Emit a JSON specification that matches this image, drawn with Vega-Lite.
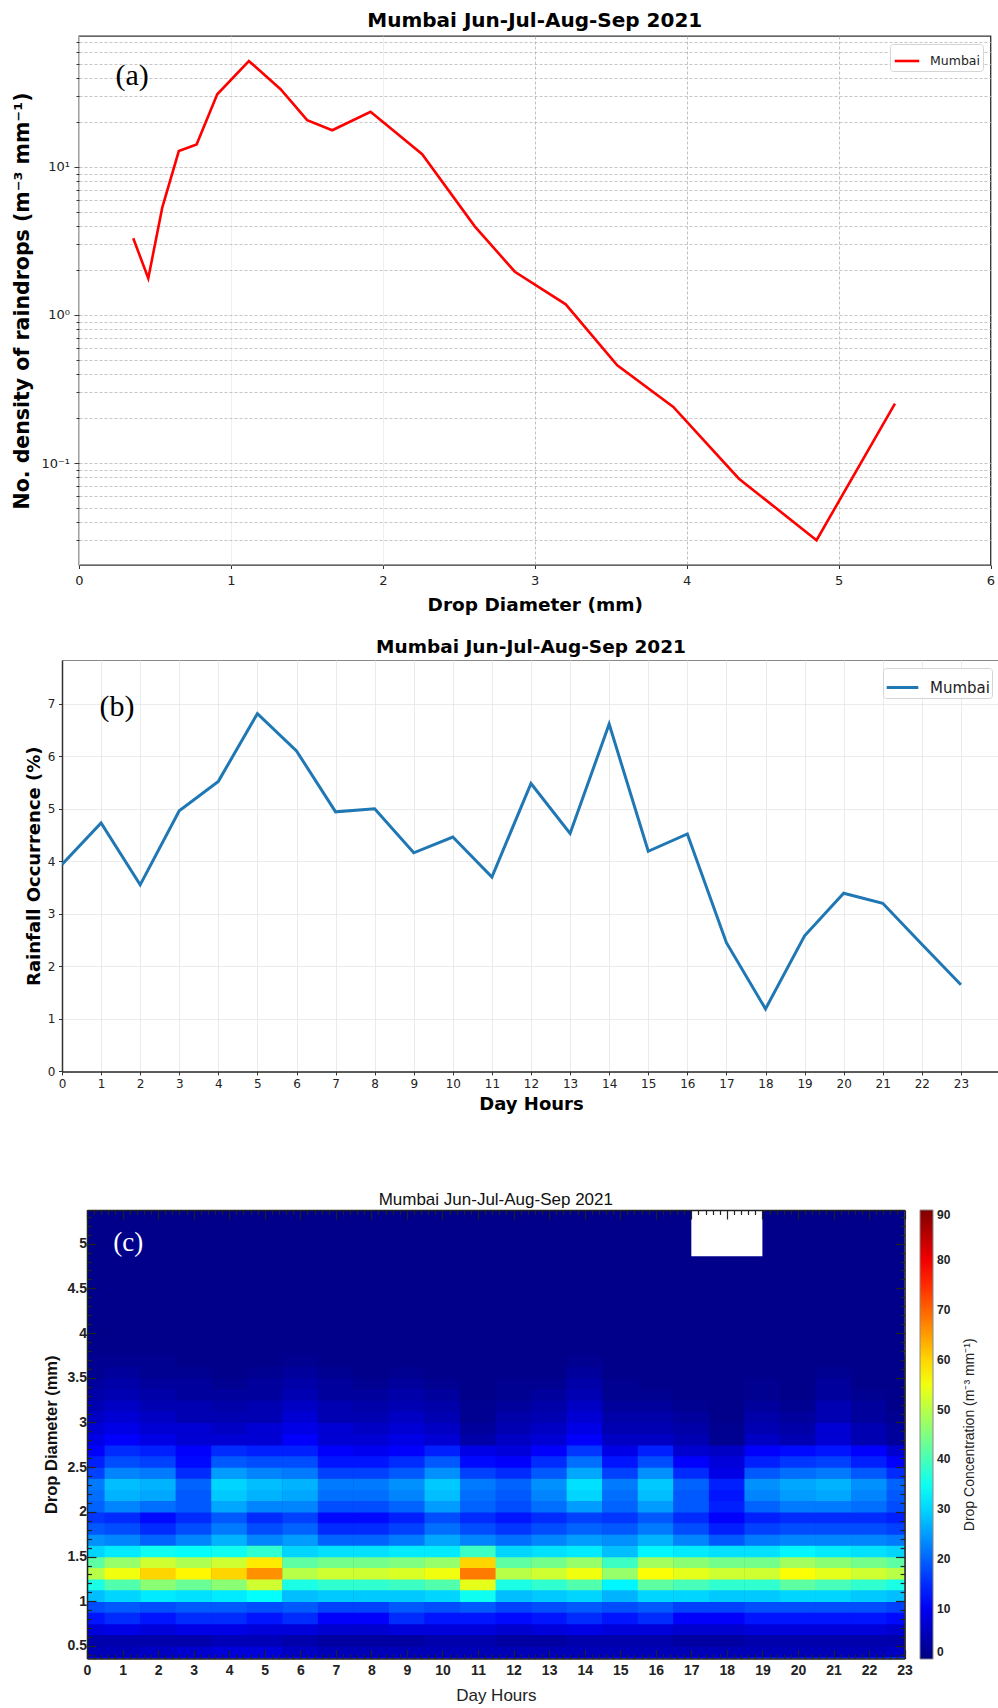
{
"$schema":"https://vega.github.io/schema/vega-lite/v6.json",
"padding":{"left":0,"top":10,"right":0,"bottom":0},
"autosize":{"type":"pad"},
"background":"white",
"spacing":22,
"config":{"font":"DejaVu Sans","view":{"stroke":null},"axis":{"labelColor":"#222","titleColor":"#000"}},
"resolve":{"scale":{"color":"independent"},"legend":{"color":"independent"}},
"datasets":{"blank":[{}],"heat":[
{"h":0,"d":0.31,"v":10},{"h":1,"d":0.31,"v":10},{"h":2,"d":0.31,"v":10},{"h":3,"d":0.31,"v":10},{"h":4,"d":0.31,"v":10},{"h":5,"d":0.31,"v":12},{"h":6,"d":0.31,"v":12},{"h":7,"d":0.31,"v":10},{"h":8,"d":0.31,"v":10},{"h":9,"d":0.31,"v":10},{"h":10,"d":0.31,"v":10},{"h":11,"d":0.31,"v":10},{"h":12,"d":0.31,"v":10},{"h":13,"d":0.31,"v":10},{"h":14,"d":0.31,"v":10},{"h":15,"d":0.31,"v":12},{"h":16,"d":0.31,"v":12},{"h":17,"d":0.31,"v":12},{"h":18,"d":0.31,"v":12},{"h":19,"d":0.31,"v":14},{"h":20,"d":0.31,"v":14},{"h":21,"d":0.31,"v":14},{"h":22,"d":0.31,"v":14},{"h":23,"d":0.31,"v":16},
{"h":0,"d":0.44,"v":5},{"h":1,"d":0.44,"v":5},{"h":2,"d":0.44,"v":6},{"h":3,"d":0.44,"v":7},{"h":4,"d":0.44,"v":8},{"h":5,"d":0.44,"v":8},{"h":6,"d":0.44,"v":6},{"h":7,"d":0.44,"v":5},{"h":8,"d":0.44,"v":5},{"h":9,"d":0.44,"v":5},{"h":10,"d":0.44,"v":5},{"h":11,"d":0.44,"v":5},{"h":12,"d":0.44,"v":5},{"h":13,"d":0.44,"v":5},{"h":14,"d":0.44,"v":5},{"h":15,"d":0.44,"v":5},{"h":16,"d":0.44,"v":5},{"h":17,"d":0.44,"v":5},{"h":18,"d":0.44,"v":5},{"h":19,"d":0.44,"v":5},{"h":20,"d":0.44,"v":5},{"h":21,"d":0.44,"v":5},{"h":22,"d":0.44,"v":5},{"h":23,"d":0.44,"v":6},
{"h":0,"d":0.56,"v":4},{"h":1,"d":0.56,"v":4},{"h":2,"d":0.56,"v":4},{"h":3,"d":0.56,"v":4},{"h":4,"d":0.56,"v":5},{"h":5,"d":0.56,"v":5},{"h":6,"d":0.56,"v":4},{"h":7,"d":0.56,"v":3},{"h":8,"d":0.56,"v":3},{"h":9,"d":0.56,"v":3},{"h":10,"d":0.56,"v":4},{"h":11,"d":0.56,"v":4},{"h":12,"d":0.56,"v":3},{"h":13,"d":0.56,"v":3},{"h":14,"d":0.56,"v":4},{"h":15,"d":0.56,"v":4},{"h":16,"d":0.56,"v":4},{"h":17,"d":0.56,"v":3},{"h":18,"d":0.56,"v":3},{"h":19,"d":0.56,"v":4},{"h":20,"d":0.56,"v":4},{"h":21,"d":0.56,"v":4},{"h":22,"d":0.56,"v":4},{"h":23,"d":0.56,"v":4},
{"h":0,"d":0.69,"v":8},{"h":1,"d":0.69,"v":9},{"h":2,"d":0.69,"v":8},{"h":3,"d":0.69,"v":9},{"h":4,"d":0.69,"v":9},{"h":5,"d":0.69,"v":8},{"h":6,"d":0.69,"v":8},{"h":7,"d":0.69,"v":7},{"h":8,"d":0.69,"v":7},{"h":9,"d":0.69,"v":8},{"h":10,"d":0.69,"v":8},{"h":11,"d":0.69,"v":8},{"h":12,"d":0.69,"v":7},{"h":13,"d":0.69,"v":8},{"h":14,"d":0.69,"v":9},{"h":15,"d":0.69,"v":8},{"h":16,"d":0.69,"v":8},{"h":17,"d":0.69,"v":7},{"h":18,"d":0.69,"v":7},{"h":19,"d":0.69,"v":8},{"h":20,"d":0.69,"v":8},{"h":21,"d":0.69,"v":8},{"h":22,"d":0.69,"v":8},{"h":23,"d":0.69,"v":7},
{"h":0,"d":0.81,"v":13},{"h":1,"d":0.81,"v":15},{"h":2,"d":0.81,"v":13},{"h":3,"d":0.81,"v":15},{"h":4,"d":0.81,"v":15},{"h":5,"d":0.81,"v":13},{"h":6,"d":0.81,"v":15},{"h":7,"d":0.81,"v":11},{"h":8,"d":0.81,"v":11},{"h":9,"d":0.81,"v":15},{"h":10,"d":0.81,"v":13},{"h":11,"d":0.81,"v":13},{"h":12,"d":0.81,"v":12},{"h":13,"d":0.81,"v":13},{"h":14,"d":0.81,"v":15},{"h":15,"d":0.81,"v":13},{"h":16,"d":0.81,"v":15},{"h":17,"d":0.81,"v":11},{"h":18,"d":0.81,"v":11},{"h":19,"d":0.81,"v":13},{"h":20,"d":0.81,"v":13},{"h":21,"d":0.81,"v":13},{"h":22,"d":0.81,"v":13},{"h":23,"d":0.81,"v":12},
{"h":0,"d":0.94,"v":18},{"h":1,"d":0.94,"v":19},{"h":2,"d":0.94,"v":18},{"h":3,"d":0.94,"v":19},{"h":4,"d":0.94,"v":19},{"h":5,"d":0.94,"v":18},{"h":6,"d":0.94,"v":19},{"h":7,"d":0.94,"v":17},{"h":8,"d":0.94,"v":17},{"h":9,"d":0.94,"v":19},{"h":10,"d":0.94,"v":18},{"h":11,"d":0.94,"v":19},{"h":12,"d":0.94,"v":17},{"h":13,"d":0.94,"v":18},{"h":14,"d":0.94,"v":19},{"h":15,"d":0.94,"v":18},{"h":16,"d":0.94,"v":19},{"h":17,"d":0.94,"v":17},{"h":18,"d":0.94,"v":17},{"h":19,"d":0.94,"v":18},{"h":20,"d":0.94,"v":18},{"h":21,"d":0.94,"v":18},{"h":22,"d":0.94,"v":18},{"h":23,"d":0.94,"v":17},
{"h":0,"d":1.06,"v":28},{"h":1,"d":1.06,"v":30},{"h":2,"d":1.06,"v":32},{"h":3,"d":1.06,"v":31},{"h":4,"d":1.06,"v":32},{"h":5,"d":1.06,"v":34},{"h":6,"d":1.06,"v":28},{"h":7,"d":1.06,"v":29},{"h":8,"d":1.06,"v":29},{"h":9,"d":1.06,"v":29},{"h":10,"d":1.06,"v":30},{"h":11,"d":1.06,"v":35},{"h":12,"d":1.06,"v":28},{"h":13,"d":1.06,"v":29},{"h":14,"d":1.06,"v":30},{"h":15,"d":1.06,"v":27},{"h":16,"d":1.06,"v":30},{"h":17,"d":1.06,"v":30},{"h":18,"d":1.06,"v":29},{"h":19,"d":1.06,"v":29},{"h":20,"d":1.06,"v":30},{"h":21,"d":1.06,"v":30},{"h":22,"d":1.06,"v":29},{"h":23,"d":1.06,"v":28},
{"h":0,"d":1.19,"v":36},{"h":1,"d":1.19,"v":41},{"h":2,"d":1.19,"v":46},{"h":3,"d":1.19,"v":43},{"h":4,"d":1.19,"v":46},{"h":5,"d":1.19,"v":52},{"h":6,"d":1.19,"v":36},{"h":7,"d":1.19,"v":38},{"h":8,"d":1.19,"v":38},{"h":9,"d":1.19,"v":39},{"h":10,"d":1.19,"v":41},{"h":11,"d":1.19,"v":54},{"h":12,"d":1.19,"v":36},{"h":13,"d":1.19,"v":38},{"h":14,"d":1.19,"v":41},{"h":15,"d":1.19,"v":33},{"h":16,"d":1.19,"v":42},{"h":17,"d":1.19,"v":40},{"h":18,"d":1.19,"v":38},{"h":19,"d":1.19,"v":38},{"h":20,"d":1.19,"v":42},{"h":21,"d":1.19,"v":40},{"h":22,"d":1.19,"v":38},{"h":23,"d":1.19,"v":36},
{"h":0,"d":1.31,"v":50},{"h":1,"d":1.31,"v":55},{"h":2,"d":1.31,"v":60},{"h":3,"d":1.31,"v":57},{"h":4,"d":1.31,"v":60},{"h":5,"d":1.31,"v":66},{"h":6,"d":1.31,"v":50},{"h":7,"d":1.31,"v":52},{"h":8,"d":1.31,"v":52},{"h":9,"d":1.31,"v":53},{"h":10,"d":1.31,"v":55},{"h":11,"d":1.31,"v":68},{"h":12,"d":1.31,"v":50},{"h":13,"d":1.31,"v":52},{"h":14,"d":1.31,"v":55},{"h":15,"d":1.31,"v":47},{"h":16,"d":1.31,"v":56},{"h":17,"d":1.31,"v":54},{"h":18,"d":1.31,"v":52},{"h":19,"d":1.31,"v":52},{"h":20,"d":1.31,"v":56},{"h":21,"d":1.31,"v":54},{"h":22,"d":1.31,"v":52},{"h":23,"d":1.31,"v":50},
{"h":0,"d":1.44,"v":42},{"h":1,"d":1.44,"v":47},{"h":2,"d":1.44,"v":52},{"h":3,"d":1.44,"v":49},{"h":4,"d":1.44,"v":52},{"h":5,"d":1.44,"v":58},{"h":6,"d":1.44,"v":42},{"h":7,"d":1.44,"v":44},{"h":8,"d":1.44,"v":44},{"h":9,"d":1.44,"v":45},{"h":10,"d":1.44,"v":47},{"h":11,"d":1.44,"v":60},{"h":12,"d":1.44,"v":42},{"h":13,"d":1.44,"v":44},{"h":14,"d":1.44,"v":47},{"h":15,"d":1.44,"v":39},{"h":16,"d":1.44,"v":48},{"h":17,"d":1.44,"v":46},{"h":18,"d":1.44,"v":44},{"h":19,"d":1.44,"v":44},{"h":20,"d":1.44,"v":48},{"h":21,"d":1.44,"v":46},{"h":22,"d":1.44,"v":44},{"h":23,"d":1.44,"v":42},
{"h":0,"d":1.56,"v":30},{"h":1,"d":1.56,"v":32},{"h":2,"d":1.56,"v":35},{"h":3,"d":1.56,"v":34},{"h":4,"d":1.56,"v":35},{"h":5,"d":1.56,"v":38},{"h":6,"d":1.56,"v":30},{"h":7,"d":1.56,"v":31},{"h":8,"d":1.56,"v":31},{"h":9,"d":1.56,"v":32},{"h":10,"d":1.56,"v":32},{"h":11,"d":1.56,"v":39},{"h":12,"d":1.56,"v":30},{"h":13,"d":1.56,"v":31},{"h":14,"d":1.56,"v":32},{"h":15,"d":1.56,"v":28},{"h":16,"d":1.56,"v":33},{"h":17,"d":1.56,"v":32},{"h":18,"d":1.56,"v":31},{"h":19,"d":1.56,"v":31},{"h":20,"d":1.56,"v":33},{"h":21,"d":1.56,"v":32},{"h":22,"d":1.56,"v":31},{"h":23,"d":1.56,"v":30},
{"h":0,"d":1.69,"v":24},{"h":1,"d":1.69,"v":23},{"h":2,"d":1.69,"v":20},{"h":3,"d":1.69,"v":23},{"h":4,"d":1.69,"v":27},{"h":5,"d":1.69,"v":23},{"h":6,"d":1.69,"v":25},{"h":7,"d":1.69,"v":20},{"h":8,"d":1.69,"v":20},{"h":9,"d":1.69,"v":22},{"h":10,"d":1.69,"v":26},{"h":11,"d":1.69,"v":23},{"h":12,"d":1.69,"v":21},{"h":13,"d":1.69,"v":23},{"h":14,"d":1.69,"v":25},{"h":15,"d":1.69,"v":24},{"h":16,"d":1.69,"v":27},{"h":17,"d":1.69,"v":23},{"h":18,"d":1.69,"v":19},{"h":19,"d":1.69,"v":22},{"h":20,"d":1.69,"v":23},{"h":21,"d":1.69,"v":23},{"h":22,"d":1.69,"v":23},{"h":23,"d":1.69,"v":22},
{"h":0,"d":1.81,"v":19},{"h":1,"d":1.81,"v":18},{"h":2,"d":1.81,"v":15},{"h":3,"d":1.81,"v":18},{"h":4,"d":1.81,"v":22},{"h":5,"d":1.81,"v":18},{"h":6,"d":1.81,"v":20},{"h":7,"d":1.81,"v":15},{"h":8,"d":1.81,"v":15},{"h":9,"d":1.81,"v":17},{"h":10,"d":1.81,"v":21},{"h":11,"d":1.81,"v":18},{"h":12,"d":1.81,"v":16},{"h":13,"d":1.81,"v":18},{"h":14,"d":1.81,"v":20},{"h":15,"d":1.81,"v":19},{"h":16,"d":1.81,"v":22},{"h":17,"d":1.81,"v":18},{"h":18,"d":1.81,"v":14},{"h":19,"d":1.81,"v":17},{"h":20,"d":1.81,"v":18},{"h":21,"d":1.81,"v":18},{"h":22,"d":1.81,"v":18},{"h":23,"d":1.81,"v":17},
{"h":0,"d":1.94,"v":16},{"h":1,"d":1.94,"v":15},{"h":2,"d":1.94,"v":12},{"h":3,"d":1.94,"v":15},{"h":4,"d":1.94,"v":19},{"h":5,"d":1.94,"v":15},{"h":6,"d":1.94,"v":17},{"h":7,"d":1.94,"v":12},{"h":8,"d":1.94,"v":12},{"h":9,"d":1.94,"v":14},{"h":10,"d":1.94,"v":18},{"h":11,"d":1.94,"v":15},{"h":12,"d":1.94,"v":13},{"h":13,"d":1.94,"v":15},{"h":14,"d":1.94,"v":17},{"h":15,"d":1.94,"v":16},{"h":16,"d":1.94,"v":19},{"h":17,"d":1.94,"v":15},{"h":18,"d":1.94,"v":11},{"h":19,"d":1.94,"v":14},{"h":20,"d":1.94,"v":15},{"h":21,"d":1.94,"v":15},{"h":22,"d":1.94,"v":15},{"h":23,"d":1.94,"v":14},
{"h":0,"d":2.06,"v":20},{"h":1,"d":2.06,"v":23},{"h":2,"d":2.06,"v":21},{"h":3,"d":2.06,"v":19},{"h":4,"d":2.06,"v":26},{"h":5,"d":2.06,"v":23},{"h":6,"d":2.06,"v":23},{"h":7,"d":2.06,"v":18},{"h":8,"d":2.06,"v":18},{"h":9,"d":2.06,"v":20},{"h":10,"d":2.06,"v":25},{"h":11,"d":2.06,"v":20},{"h":12,"d":2.06,"v":18},{"h":13,"d":2.06,"v":21},{"h":14,"d":2.06,"v":25},{"h":15,"d":2.06,"v":20},{"h":16,"d":2.06,"v":25},{"h":17,"d":2.06,"v":19},{"h":18,"d":2.06,"v":14},{"h":19,"d":2.06,"v":20},{"h":20,"d":2.06,"v":22},{"h":21,"d":2.06,"v":22},{"h":22,"d":2.06,"v":21},{"h":23,"d":2.06,"v":18},
{"h":0,"d":2.19,"v":21},{"h":1,"d":2.19,"v":27},{"h":2,"d":2.19,"v":26},{"h":3,"d":2.19,"v":19},{"h":4,"d":2.19,"v":29},{"h":5,"d":2.19,"v":27},{"h":6,"d":2.19,"v":26},{"h":7,"d":2.19,"v":21},{"h":8,"d":2.19,"v":21},{"h":9,"d":2.19,"v":23},{"h":10,"d":2.19,"v":28},{"h":11,"d":2.19,"v":21},{"h":12,"d":2.19,"v":19},{"h":13,"d":2.19,"v":23},{"h":14,"d":2.19,"v":30},{"h":15,"d":2.19,"v":21},{"h":16,"d":2.19,"v":28},{"h":17,"d":2.19,"v":19},{"h":18,"d":2.19,"v":13},{"h":19,"d":2.19,"v":23},{"h":20,"d":2.19,"v":25},{"h":21,"d":2.19,"v":26},{"h":22,"d":2.19,"v":23},{"h":23,"d":2.19,"v":19},
{"h":0,"d":2.31,"v":22},{"h":1,"d":2.31,"v":28},{"h":2,"d":2.31,"v":27},{"h":3,"d":2.31,"v":20},{"h":4,"d":2.31,"v":30},{"h":5,"d":2.31,"v":28},{"h":6,"d":2.31,"v":27},{"h":7,"d":2.31,"v":22},{"h":8,"d":2.31,"v":22},{"h":9,"d":2.31,"v":24},{"h":10,"d":2.31,"v":29},{"h":11,"d":2.31,"v":22},{"h":12,"d":2.31,"v":20},{"h":13,"d":2.31,"v":24},{"h":14,"d":2.31,"v":31},{"h":15,"d":2.31,"v":22},{"h":16,"d":2.31,"v":29},{"h":17,"d":2.31,"v":20},{"h":18,"d":2.31,"v":14},{"h":19,"d":2.31,"v":24},{"h":20,"d":2.31,"v":26},{"h":21,"d":2.31,"v":27},{"h":22,"d":2.31,"v":24},{"h":23,"d":2.31,"v":20},
{"h":0,"d":2.44,"v":17},{"h":1,"d":2.44,"v":23},{"h":2,"d":2.44,"v":22},{"h":3,"d":2.44,"v":15},{"h":4,"d":2.44,"v":25},{"h":5,"d":2.44,"v":23},{"h":6,"d":2.44,"v":22},{"h":7,"d":2.44,"v":17},{"h":8,"d":2.44,"v":17},{"h":9,"d":2.44,"v":19},{"h":10,"d":2.44,"v":24},{"h":11,"d":2.44,"v":17},{"h":12,"d":2.44,"v":15},{"h":13,"d":2.44,"v":19},{"h":14,"d":2.44,"v":26},{"h":15,"d":2.44,"v":17},{"h":16,"d":2.44,"v":24},{"h":17,"d":2.44,"v":15},{"h":18,"d":2.44,"v":9},{"h":19,"d":2.44,"v":19},{"h":20,"d":2.44,"v":21},{"h":21,"d":2.44,"v":22},{"h":22,"d":2.44,"v":19},{"h":23,"d":2.44,"v":15},
{"h":0,"d":2.56,"v":14},{"h":1,"d":2.56,"v":18},{"h":2,"d":2.56,"v":17},{"h":3,"d":2.56,"v":12},{"h":4,"d":2.56,"v":19},{"h":5,"d":2.56,"v":18},{"h":6,"d":2.56,"v":18},{"h":7,"d":2.56,"v":13},{"h":8,"d":2.56,"v":13},{"h":9,"d":2.56,"v":15},{"h":10,"d":2.56,"v":19},{"h":11,"d":2.56,"v":12},{"h":12,"d":2.56,"v":11},{"h":13,"d":2.56,"v":15},{"h":14,"d":2.56,"v":21},{"h":15,"d":2.56,"v":13},{"h":16,"d":2.56,"v":18},{"h":17,"d":2.56,"v":11},{"h":18,"d":2.56,"v":8},{"h":19,"d":2.56,"v":14},{"h":20,"d":2.56,"v":16},{"h":21,"d":2.56,"v":17},{"h":22,"d":2.56,"v":14},{"h":23,"d":2.56,"v":11},
{"h":0,"d":2.69,"v":11},{"h":1,"d":2.69,"v":15},{"h":2,"d":2.69,"v":14},{"h":3,"d":2.69,"v":11},{"h":4,"d":2.69,"v":15},{"h":5,"d":2.69,"v":14},{"h":6,"d":2.69,"v":14},{"h":7,"d":2.69,"v":11},{"h":8,"d":2.69,"v":10},{"h":9,"d":2.69,"v":11},{"h":10,"d":2.69,"v":14},{"h":11,"d":2.69,"v":9},{"h":12,"d":2.69,"v":8},{"h":13,"d":2.69,"v":11},{"h":14,"d":2.69,"v":16},{"h":15,"d":2.69,"v":9},{"h":16,"d":2.69,"v":14},{"h":17,"d":2.69,"v":7},{"h":18,"d":2.69,"v":6},{"h":19,"d":2.69,"v":11},{"h":20,"d":2.69,"v":12},{"h":21,"d":2.69,"v":13},{"h":22,"d":2.69,"v":11},{"h":23,"d":2.69,"v":7},
{"h":0,"d":2.81,"v":9},{"h":1,"d":2.81,"v":11},{"h":2,"d":2.81,"v":9},{"h":3,"d":2.81,"v":7.5},{"h":4,"d":2.81,"v":7.5},{"h":5,"d":2.81,"v":7.5},{"h":6,"d":2.81,"v":11},{"h":7,"d":2.81,"v":7.5},{"h":8,"d":2.81,"v":7.5},{"h":9,"d":2.81,"v":9},{"h":10,"d":2.81,"v":7.5},{"h":11,"d":2.81,"v":3.5},{"h":12,"d":2.81,"v":6},{"h":13,"d":2.81,"v":7.5},{"h":14,"d":2.81,"v":11},{"h":15,"d":2.81,"v":6},{"h":16,"d":2.81,"v":6},{"h":17,"d":2.81,"v":4.5},{"h":18,"d":2.81,"v":1.5},{"h":19,"d":2.81,"v":6},{"h":20,"d":2.81,"v":4.5},{"h":21,"d":2.81,"v":7.5},{"h":22,"d":2.81,"v":4.5},{"h":23,"d":2.81,"v":2.5},
{"h":0,"d":2.94,"v":7.5},{"h":1,"d":2.94,"v":9},{"h":2,"d":2.94,"v":7.5},{"h":3,"d":2.94,"v":7.5},{"h":4,"d":2.94,"v":6},{"h":5,"d":2.94,"v":7.5},{"h":6,"d":2.94,"v":9},{"h":7,"d":2.94,"v":7.5},{"h":8,"d":2.94,"v":6},{"h":9,"d":2.94,"v":7.5},{"h":10,"d":2.94,"v":6},{"h":11,"d":2.94,"v":2.5},{"h":12,"d":2.94,"v":4.5},{"h":13,"d":2.94,"v":6},{"h":14,"d":2.94,"v":9},{"h":15,"d":2.94,"v":4.5},{"h":16,"d":2.94,"v":4.5},{"h":17,"d":2.94,"v":3.5},{"h":18,"d":2.94,"v":1.5},{"h":19,"d":2.94,"v":4.5},{"h":20,"d":2.94,"v":3.5},{"h":21,"d":2.94,"v":7.5},{"h":22,"d":2.94,"v":4.5},{"h":23,"d":2.94,"v":2.5},
{"h":0,"d":3.06,"v":6},{"h":1,"d":3.06,"v":7.5},{"h":2,"d":3.06,"v":6},{"h":3,"d":3.06,"v":4.5},{"h":4,"d":3.06,"v":4.5},{"h":5,"d":3.06,"v":4.5},{"h":6,"d":3.06,"v":7.5},{"h":7,"d":3.06,"v":4.5},{"h":8,"d":3.06,"v":4.5},{"h":9,"d":3.06,"v":6},{"h":10,"d":3.06,"v":4.5},{"h":11,"d":3.06,"v":1.5},{"h":12,"d":3.06,"v":3.5},{"h":13,"d":3.06,"v":4.5},{"h":14,"d":3.06,"v":7.5},{"h":15,"d":3.06,"v":3.5},{"h":16,"d":3.06,"v":3.5},{"h":17,"d":3.06,"v":2.5},{"h":18,"d":3.06,"v":1},{"h":19,"d":3.06,"v":3.5},{"h":20,"d":3.06,"v":2.5},{"h":21,"d":3.06,"v":4.5},{"h":22,"d":3.06,"v":2.5},{"h":23,"d":3.06,"v":1.5},
{"h":0,"d":3.19,"v":4.5},{"h":1,"d":3.19,"v":6},{"h":2,"d":3.19,"v":4.5},{"h":3,"d":3.19,"v":4.5},{"h":4,"d":3.19,"v":3.5},{"h":5,"d":3.19,"v":4.5},{"h":6,"d":3.19,"v":6},{"h":7,"d":3.19,"v":4.5},{"h":8,"d":3.19,"v":3.5},{"h":9,"d":3.19,"v":4.5},{"h":10,"d":3.19,"v":3.5},{"h":11,"d":3.19,"v":1.5},{"h":12,"d":3.19,"v":2.5},{"h":13,"d":3.19,"v":3.5},{"h":14,"d":3.19,"v":6},{"h":15,"d":3.19,"v":2.5},{"h":16,"d":3.19,"v":2.5},{"h":17,"d":3.19,"v":1.5},{"h":18,"d":3.19,"v":1},{"h":19,"d":3.19,"v":2.5},{"h":20,"d":3.19,"v":1.5},{"h":21,"d":3.19,"v":4.5},{"h":22,"d":3.19,"v":2.5},{"h":23,"d":3.19,"v":1},
{"h":0,"d":3.31,"v":3.5},{"h":1,"d":3.31,"v":4.5},{"h":2,"d":3.31,"v":3.5},{"h":3,"d":3.31,"v":2.5},{"h":4,"d":3.31,"v":2.5},{"h":5,"d":3.31,"v":2.5},{"h":6,"d":3.31,"v":4.5},{"h":7,"d":3.31,"v":2.5},{"h":8,"d":3.31,"v":2.5},{"h":9,"d":3.31,"v":3.5},{"h":10,"d":3.31,"v":2.5},{"h":11,"d":3.31,"v":1},{"h":12,"d":3.31,"v":1.5},{"h":13,"d":3.31,"v":2.5},{"h":14,"d":3.31,"v":4.5},{"h":15,"d":3.31,"v":1.5},{"h":16,"d":3.31,"v":1.5},{"h":17,"d":3.31,"v":1},{"h":18,"d":3.31,"v":1},{"h":19,"d":3.31,"v":1.5},{"h":20,"d":3.31,"v":1},{"h":21,"d":3.31,"v":2.5},{"h":22,"d":3.31,"v":1.5},{"h":23,"d":3.31,"v":1},
{"h":0,"d":3.44,"v":2.5},{"h":1,"d":3.44,"v":3.5},{"h":2,"d":3.44,"v":2.5},{"h":3,"d":3.44,"v":2.5},{"h":4,"d":3.44,"v":1.5},{"h":5,"d":3.44,"v":2.5},{"h":6,"d":3.44,"v":3.5},{"h":7,"d":3.44,"v":2.5},{"h":8,"d":3.44,"v":1.5},{"h":9,"d":3.44,"v":2.5},{"h":10,"d":3.44,"v":1.5},{"h":11,"d":3.44,"v":1},{"h":12,"d":3.44,"v":1.5},{"h":13,"d":3.44,"v":1.5},{"h":14,"d":3.44,"v":3.5},{"h":15,"d":3.44,"v":1.5},{"h":16,"d":3.44,"v":1},{"h":17,"d":3.44,"v":1},{"h":18,"d":3.44,"v":1},{"h":19,"d":3.44,"v":1.5},{"h":20,"d":3.44,"v":1},{"h":21,"d":3.44,"v":2.5},{"h":22,"d":3.44,"v":1},{"h":23,"d":3.44,"v":1},
{"h":0,"d":3.56,"v":1.5},{"h":1,"d":3.56,"v":2.5},{"h":2,"d":3.56,"v":1.5},{"h":3,"d":3.56,"v":1.5},{"h":4,"d":3.56,"v":1},{"h":5,"d":3.56,"v":1.5},{"h":6,"d":3.56,"v":2.5},{"h":7,"d":3.56,"v":1.5},{"h":8,"d":3.56,"v":1},{"h":9,"d":3.56,"v":1.5},{"h":10,"d":3.56,"v":1},{"h":11,"d":3.56,"v":1},{"h":12,"d":3.56,"v":1},{"h":13,"d":3.56,"v":1},{"h":14,"d":3.56,"v":2.5},{"h":15,"d":3.56,"v":1},{"h":16,"d":3.56,"v":1},{"h":17,"d":3.56,"v":1},{"h":18,"d":3.56,"v":1},{"h":19,"d":3.56,"v":1},{"h":20,"d":3.56,"v":1},{"h":21,"d":3.56,"v":1.5},{"h":22,"d":3.56,"v":1},{"h":23,"d":3.56,"v":1},
{"h":0,"d":3.69,"v":1.5},{"h":1,"d":3.69,"v":1.5},{"h":2,"d":3.69,"v":1.5},{"h":3,"d":3.69,"v":1},{"h":4,"d":3.69,"v":1},{"h":5,"d":3.69,"v":1},{"h":6,"d":3.69,"v":1.5},{"h":7,"d":3.69,"v":1},{"h":8,"d":3.69,"v":1},{"h":9,"d":3.69,"v":1},{"h":10,"d":3.69,"v":1},{"h":11,"d":3.69,"v":1},{"h":12,"d":3.69,"v":1},{"h":13,"d":3.69,"v":1},{"h":14,"d":3.69,"v":1.5},{"h":15,"d":3.69,"v":1},{"h":16,"d":3.69,"v":1},{"h":17,"d":3.69,"v":1},{"h":18,"d":3.69,"v":1},{"h":19,"d":3.69,"v":1},{"h":20,"d":3.69,"v":1},{"h":21,"d":3.69,"v":1},{"h":22,"d":3.69,"v":1},{"h":23,"d":3.69,"v":1}
]},
"vconcat":[
{"hconcat":[
{"width":1,"height":1,"data":{"name":"blank"},"mark":{"type":"text","text":"","opacity":0}},
{
"width":911.5,"height":529,
"view":{"stroke":"#333","strokeWidth":1.3},
"title":{"text":"Mumbai Jun-Jul-Aug-Sep 2021","font":"DejaVu Sans","fontSize":20,"fontWeight":"bold","color":"#000","offset":4.8,"frame":"group"},
"encoding":{
"x":{"field":"d","type":"quantitative","scale":{"domain":[0,6],"nice":false,"zero":false},
"axis":{"values":[0,1,2,3,4,5,6],"title":"Drop Diameter (mm)","titleFont":"DejaVu Sans","titleFontSize":18.5,"titleFontWeight":"bold","titleX":455.75,"titleY":45.3,"titleAlign":"center","titleBaseline":"alphabetic","labelFontSize":13,"labelPadding":5.9,"labelFlush":false,"labelOverlap":false,"tickSize":3.5,"tickColor":"#333","domain":false,"grid":true,"gridWidth":0.8,
"gridColor":{"condition":{"test":"datum.value >= 3","value":"#b0b0b0"},"value":"#ebebeb"},
"gridDash":{"condition":{"test":"datum.value >= 3","value":[3,2]},"value":[]}}},
"y":{"field":"n","type":"quantitative","scale":{"type":"log","domain":[0.02046,76.7],"nice":false},
"axis":{"values":[0.03,0.04,0.05,0.06,0.07,0.08,0.09,0.1,0.2,0.3,0.4,0.5,0.6,0.7,0.8,0.9,1,2,3,4,5,6,7,8,9,10,20,30,40,50,60,70],
"labelExpr":"datum.value === 10 ? '10¹' : datum.value === 1 ? '10⁰' : datum.value === 0.1 ? '10⁻¹' : ''",
"labelFontSize":13,"labelPadding":4.5,"labelOverlap":false,
"tickSize":{"condition":{"test":"datum.value === 10 || datum.value === 1 || datum.value === 0.1","value":5},"value":3},
"tickColor":"#333","domain":false,"grid":true,"gridColor":"#b8b8b8","gridDash":[3,2],"gridWidth":0.8,
"title":["\u00a0","No. density of raindrops (m⁻³ mm⁻¹)"],"titleFont":"DejaVu Sans","titleFontSize":20.5,"titleFontWeight":"bold","titleAngle":270,"titleX":-61.3,"titleY":264.5,"titleAlign":"center","titleBaseline":"alphabetic","titleLineHeight":11.1}}
},
"layer":[
{"data":{"values":[
{"d":0.357,"n":3.30,"city":"Mumbai"},{"d":0.456,"n":1.77,"city":"Mumbai"},{"d":0.548,"n":5.31,"city":"Mumbai"},{"d":0.657,"n":12.8,"city":"Mumbai"},{"d":0.774,"n":14.2,"city":"Mumbai"},{"d":0.910,"n":31.0,"city":"Mumbai"},{"d":1.118,"n":52.0,"city":"Mumbai"},{"d":1.327,"n":33.5,"city":"Mumbai"},{"d":1.502,"n":20.7,"city":"Mumbai"},{"d":1.667,"n":17.7,"city":"Mumbai"},{"d":1.919,"n":23.6,"city":"Mumbai"},{"d":2.259,"n":12.2,"city":"Mumbai"},{"d":2.605,"n":3.97,"city":"Mumbai"},{"d":2.869,"n":1.96,"city":"Mumbai"},{"d":3.204,"n":1.18,"city":"Mumbai"},{"d":3.543,"n":0.457,"city":"Mumbai"},{"d":3.912,"n":0.239,"city":"Mumbai"},{"d":4.344,"n":0.0783,"city":"Mumbai"},{"d":4.855,"n":0.0301,"city":"Mumbai"},{"d":5.371,"n":0.252,"city":"Mumbai"}]},
"mark":{"type":"line","strokeWidth":2.6,"clip":true},
"encoding":{"color":{"field":"city","type":"nominal","scale":{"range":["#ff0000"]},
"legend":{"orient":"top-right","offset":7.5,"title":null,"symbolType":"stroke","symbolStrokeWidth":2.6,"symbolSize":600,"labelFont":"DejaVu Sans","labelFontSize":12.5,"labelColor":"#222","labelOffset":9,"padding":3,"fillColor":"white","strokeColor":"#d5d5d5","cornerRadius":3}}}},
{"data":{"values":[{"d":0.24,"n":41.4,"lab":"(a)"}]},
"mark":{"type":"text","font":"Liberation Serif","fontSize":30,"align":"left","baseline":"middle","color":"#000"},
"encoding":{"text":{"field":"lab"}}}
]
}],"spacing":0,"resolve":{"scale":{"color":"independent"},"legend":{"color":"independent"}}},
{"hconcat":[
{"width":1,"height":1,"data":{"name":"blank"},"mark":{"type":"text","text":"","opacity":0}},
{
"width":938,"height":411.4,
"view":{"stroke":"#888","strokeWidth":1},
"title":{"text":"Mumbai Jun-Jul-Aug-Sep 2021","font":"DejaVu Sans","fontSize":18.5,"fontWeight":"bold","color":"#000","offset":3.9,"frame":"group"},
"encoding":{
"x":{"field":"h","type":"quantitative","scale":{"domain":[0,24],"nice":false,"zero":false},
"axis":{"values":[0,1,2,3,4,5,6,7,8,9,10,11,12,13,14,15,16,17,18,19,20,21,22,23],"labelFontSize":12,"labelPadding":3.9,"labelFlush":false,"labelOverlap":false,"tickSize":3.5,"tickColor":"#333","domainColor":"#333","domainWidth":1.5,"grid":true,"gridColor":"#e6e6e6","gridWidth":0.8,
"title":["Day Hours","\u00a0"],"titleFont":"DejaVu Sans","titleFontSize":18,"titleFontWeight":"bold","titleX":469,"titleY":37.9,"titleAlign":"center","titleBaseline":"alphabetic","titleLineHeight":53.4}},
"y":{"field":"p","type":"quantitative","scale":{"domain":[0,7.83],"nice":false,"zero":false},
"axis":{"values":[0,1,2,3,4,5,6,7],"labelFontSize":12,"labelPadding":3.6,"labelOverlap":false,"tickSize":3.5,"tickColor":"#333","domainColor":"#333","domainWidth":1.5,"grid":true,"gridColor":"#e6e6e6","gridWidth":0.8,
"title":["\u00a0","Rainfall Occurrence (%)"],"titleFont":"DejaVu Sans","titleFontSize":18,"titleFontWeight":"bold","titleAngle":270,"titleX":-46.1,"titleY":205.7,"titleAlign":"center","titleBaseline":"alphabetic","titleLineHeight":24}}
},
"layer":[
{"data":{"values":[
{"h":0,"p":3.94,"city":"Mumbai"},{"h":1,"p":4.73,"city":"Mumbai"},{"h":2,"p":3.55,"city":"Mumbai"},{"h":3,"p":4.96,"city":"Mumbai"},{"h":4,"p":5.52,"city":"Mumbai"},{"h":5,"p":6.81,"city":"Mumbai"},{"h":6,"p":6.10,"city":"Mumbai"},{"h":7,"p":4.94,"city":"Mumbai"},{"h":8,"p":5.00,"city":"Mumbai"},{"h":9,"p":4.16,"city":"Mumbai"},{"h":10,"p":4.46,"city":"Mumbai"},{"h":11,"p":3.70,"city":"Mumbai"},{"h":12,"p":5.48,"city":"Mumbai"},{"h":13,"p":4.53,"city":"Mumbai"},{"h":14,"p":6.61,"city":"Mumbai"},{"h":15,"p":4.19,"city":"Mumbai"},{"h":16,"p":4.52,"city":"Mumbai"},{"h":17,"p":2.45,"city":"Mumbai"},{"h":18,"p":1.19,"city":"Mumbai"},{"h":19,"p":2.58,"city":"Mumbai"},{"h":20,"p":3.39,"city":"Mumbai"},{"h":21,"p":3.20,"city":"Mumbai"},{"h":22,"p":2.42,"city":"Mumbai"},{"h":23,"p":1.65,"city":"Mumbai"}]},
"mark":{"type":"line","strokeWidth":3,"clip":true},
"encoding":{"color":{"field":"city","type":"nominal","scale":{"range":["#1f77b4"]},
"legend":{"orient":"top-right","offset":8,"title":null,"symbolType":"stroke","symbolStrokeWidth":3,"symbolSize":1000,"labelFont":"DejaVu Sans","labelFontSize":15,"labelColor":"#222","labelOffset":10,"padding":2,"fillColor":"white","strokeColor":"#d5d5d5","cornerRadius":3}}}},
{"data":{"values":[{"h":0.96,"p":6.93,"lab":"(b)"}]},
"mark":{"type":"text","font":"Liberation Serif","fontSize":30,"align":"left","baseline":"middle","color":"#000"},
"encoding":{"text":{"field":"lab"}}}
]
}],"spacing":0,"resolve":{"scale":{"color":"independent"},"legend":{"color":"independent"}}},
{"hconcat":[
{"width":1,"height":1,"data":{"name":"blank"},"mark":{"type":"text","text":"","opacity":0}},
{
"width":817.6,"height":448.6,
"view":{"fill":"#00008b","stroke":null},
"title":{"text":"Mumbai Jun-Jul-Aug-Sep 2021","font":"Liberation Sans","fontSize":17,"fontWeight":"normal","color":"#111","offset":0.5,"frame":"group"},
"resolve":{"axis":{"x":"independent","y":"independent"}},
"layer":[
{"data":{"name":"heat"},
"mark":{"type":"rect","width":36,"height":12,"align":"center","baseline":"middle","clip":true},
"encoding":{
"x":{"field":"h","type":"quantitative","scale":{"domain":[0,23],"nice":false,"zero":false},
"axis":{"orient":"bottom","tickCount":115,"labelExpr":"datum.value % 1 === 0 ? format(datum.value, 'd') : ''",
"tickSize":{"condition":{"test":"datum.value % 1 === 0","value":-9},"value":-4.5},
"labelFont":"Liberation Sans","labelFontSize":14,"labelFontWeight":"bold","labelColor":"#222","labelPadding":14.2,"labelOverlap":false,"labelFlush":false,
"tickColor":"#222","tickWidth":1.2,"domainColor":"#222","domainWidth":1.5,"grid":false,"zindex":1,
"title":"Day Hours","titleFont":"Liberation Sans","titleFontSize":17,"titleFontWeight":"normal","titleColor":"#222","titleX":408.8,"titleY":42,"titleAlign":"center","titleBaseline":"alphabetic"}},
"y":{"field":"d","type":"quantitative","scale":{"domain":[0.359,5.376],"nice":false,"zero":false},
"axis":{"orient":"left","tickCount":50,"labelExpr":"abs(datum.value*2 - round(datum.value*2)) < 0.001 ? format(datum.value, '~g') : ''",
"tickSize":{"condition":{"test":"abs(datum.value*2 - round(datum.value*2)) < 0.001","value":-9},"value":-4.5},
"labelFont":"Liberation Sans","labelFontSize":14,"labelFontWeight":"bold","labelColor":"#222","labelPadding":9.5,"labelOverlap":false,"labelFlush":false,
"tickColor":"#222","tickWidth":1.2,"domainColor":"#222","domainWidth":1.5,"grid":false,"zindex":1,
"title":["\u00a0","Drop Diameter (mm)"],"titleFont":"Liberation Sans","titleFontSize":16.5,"titleFontWeight":"bold","titleColor":"#111","titleAngle":270,"titleX":-72.7,"titleY":224.3,"titleAlign":"center","titleBaseline":"alphabetic","titleLineHeight":42}},
"color":{"field":"v","type":"quantitative",
"scale":{"domain":[0,11.25,33.75,56.25,78.75,90],"range":["#000080","#0000ff","#00ffff","#ffff00","#ff0000","#800000"],"interpolate":"rgb","zero":false,"nice":false},
"legend":{"orient":"none","legendX":833,"legendY":0,"direction":"vertical","title":null,
"gradientLength":449,"gradientThickness":13,"gradientStrokeColor":"#888","gradientStrokeWidth":1,"values":[0,10,20,30,40,50,60,70,80,90],
"labelFont":"Liberation Sans","labelFontSize":12,"labelFontWeight":"bold","labelColor":"#222","labelOffset":4,"labelOverlap":false}}
}},
{"data":{"values":[{"h":17,"h2":19,"d":4.858,"d2":5.376}]},
"mark":{"type":"rect","color":"white","clip":true},
"encoding":{
"x":{"field":"h","type":"quantitative","scale":{"domain":[0,23],"nice":false,"zero":false},
"axis":{"orient":"top","tickCount":115,"labels":false,"title":null,
"tickSize":{"condition":{"test":"datum.value % 1 === 0","value":-9},"value":-4.5},
"tickColor":"#222","tickWidth":1.2,"domainColor":"#222","domainWidth":1.5,"grid":false,"zindex":1}},
"x2":{"field":"h2"},
"y":{"field":"d","type":"quantitative","scale":{"domain":[0.359,5.376],"nice":false,"zero":false},
"axis":{"orient":"right","tickCount":50,"labels":false,
"title":"Drop Concentration (m⁻³ mm⁻¹)","titleFont":"Liberation Sans","titleFontSize":14,"titleFontWeight":"normal","titleColor":"#222","titleAngle":270,"titleX":69,"titleY":224.3,"titleAlign":"center","titleBaseline":"alphabetic","titleLimit":600,
"tickSize":{"condition":{"test":"abs(datum.value*2 - round(datum.value*2)) < 0.001","value":-9},"value":-4.5},
"tickColor":"#222","tickWidth":1.2,"domainColor":"#222","domainWidth":1.5,"grid":false,"zindex":1}},
"y2":{"field":"d2"}
}},
{"data":{"values":[{"h":0.74,"d":5.01,"lab":"(c)"}]},
"mark":{"type":"text","font":"Liberation Serif","fontSize":27,"align":"left","baseline":"middle","color":"white"},
"encoding":{
"x":{"field":"h","type":"quantitative","scale":{"domain":[0,23],"nice":false,"zero":false},"axis":null},
"y":{"field":"d","type":"quantitative","scale":{"domain":[0.359,5.376],"nice":false,"zero":false},"axis":null},
"text":{"field":"lab"}}}
]
}],"spacing":0,"resolve":{"scale":{"color":"independent"},"legend":{"color":"independent"}}}
]
}
